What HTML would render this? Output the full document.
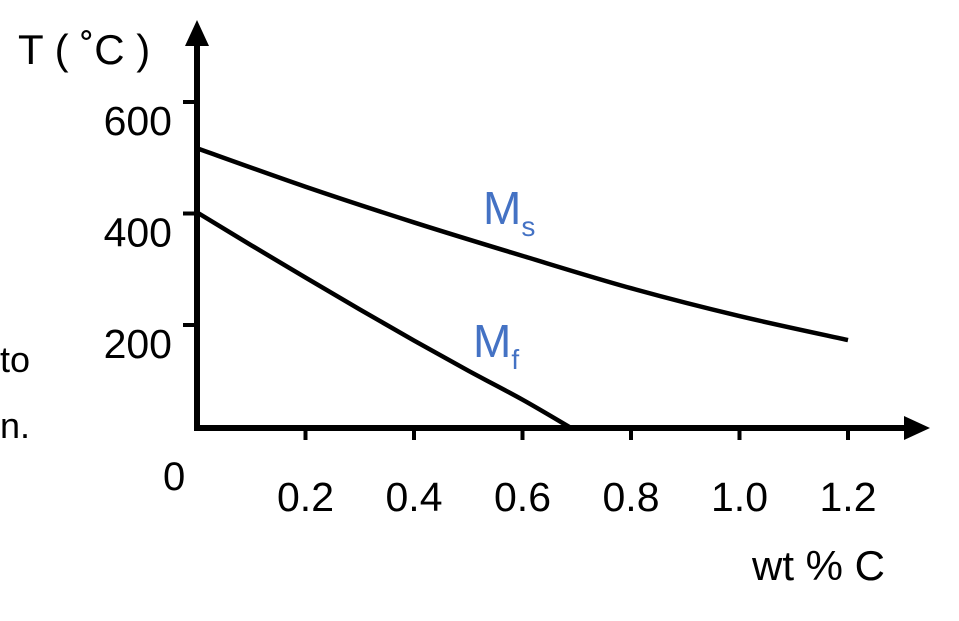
<!DOCTYPE html>
<html><head><meta charset="utf-8"><style>
body{margin:0;background:#fff;}
svg{display:block;font-family:"Liberation Sans",sans-serif;}
</style></head><body>
<svg width="959" height="621" viewBox="0 0 959 621">
<g id="axes"></g>
<g id="marks"></g>
<text x="0" y="372" font-size="36">to</text>
<text x="0" y="438" font-size="36">n.</text>
<text x="18" y="64" font-size="42">T ( ˚C )</text>
<text x="752" y="580" font-size="42">wt % C</text>
<text x="163" y="490" font-size="40">0</text>
<text x="483" y="224" font-size="46" fill="#4472C4">M<tspan font-size="28" dy="12">s</tspan></text>
<text x="473" y="357" font-size="46" fill="#4472C4">M<tspan font-size="28" dy="12">f</tspan></text>
</svg>
<script>
const xTicks=[0.2,0.4,0.6,0.8,1.0,1.2];
const xTickLabels=["0.2","0.4","0.6","0.8","1.0","1.2"];
const yTicks=[200,400,600];
const yTickLabels=["200","400","600"];
const msX=[0,0.2,0.4,0.6,0.8,1.0,1.2];
const msT=[517,448,384,324,266,216,173];
const mfX=[0,0.1,0.2,0.3,0.4,0.5,0.6,0.69];
const mfT=[402,343,285,228,172,118,66,15];
const NS="http://www.w3.org/2000/svg";
function sx(v){return 197+v*542.5;}
function sy(v){return 436.5-v*0.5575;}
function mk(t,a,p){const e=document.createElementNS(NS,t);for(const k in a)e.setAttribute(k,a[k]);p.appendChild(e);return e;}
const ax=document.getElementById('axes'),mg=document.getElementById('marks');
let l=mk('line',{x1:197,y1:430,x2:197,y2:40,stroke:'#000','stroke-width':6},ax);


let a=mk('polygon',{points:'197,20 185,46 209,46',fill:'#000'},ax);


l=mk('line',{x1:194,y1:428,x2:910,y2:428,stroke:'#000','stroke-width':6},ax);


a=mk('polygon',{points:'930,428 904,416 904,440',fill:'#000'},ax);


xTicks.forEach((v,i)=>{
 const t=mk('line',{x1:sx(v),y1:428,x2:sx(v),y2:440,stroke:'#000','stroke-width':4},ax);
 
 
 const tx=mk('text',{x:sx(v),y:511,'font-size':41,'text-anchor':'middle'},ax);
 tx.textContent=xTickLabels[i];
 
 
});
yTicks.forEach((v,i)=>{
 const t=mk('line',{x1:183,y1:sy(v),x2:197,y2:sy(v),stroke:'#000','stroke-width':4},ax);
 
 
 const tx=mk('text',{x:172,y:sy(v)+33,'font-size':41,'text-anchor':'end'},ax);
 tx.textContent=yTickLabels[i];
 
 
});
function path(xs,ts){
 const p=xs.map((v,i)=>[sx(v),sy(ts[i])]);
 let d='M'+p[0][0]+','+p[0][1];
 for(let i=0;i<p.length-1;i++){
  const p0=p[Math.max(i-1,0)],p1=p[i],p2=p[i+1],p3=p[Math.min(i+2,p.length-1)];
  d+=' C'+(p1[0]+(p2[0]-p0[0])/6)+','+(p1[1]+(p2[1]-p0[1])/6)+' '+(p2[0]-(p3[0]-p1[0])/6)+','+(p2[1]-(p3[1]-p1[1])/6)+' '+p2[0]+','+p2[1];
 }
 return d;
}
let ms=mk('path',{d:path(msX,msT),fill:'none',stroke:'#000','stroke-width':4.5},mg);


let mf=mk('path',{d:path(mfX,mfT),fill:'none',stroke:'#000','stroke-width':4.5},mg);


</script>
</body></html>
